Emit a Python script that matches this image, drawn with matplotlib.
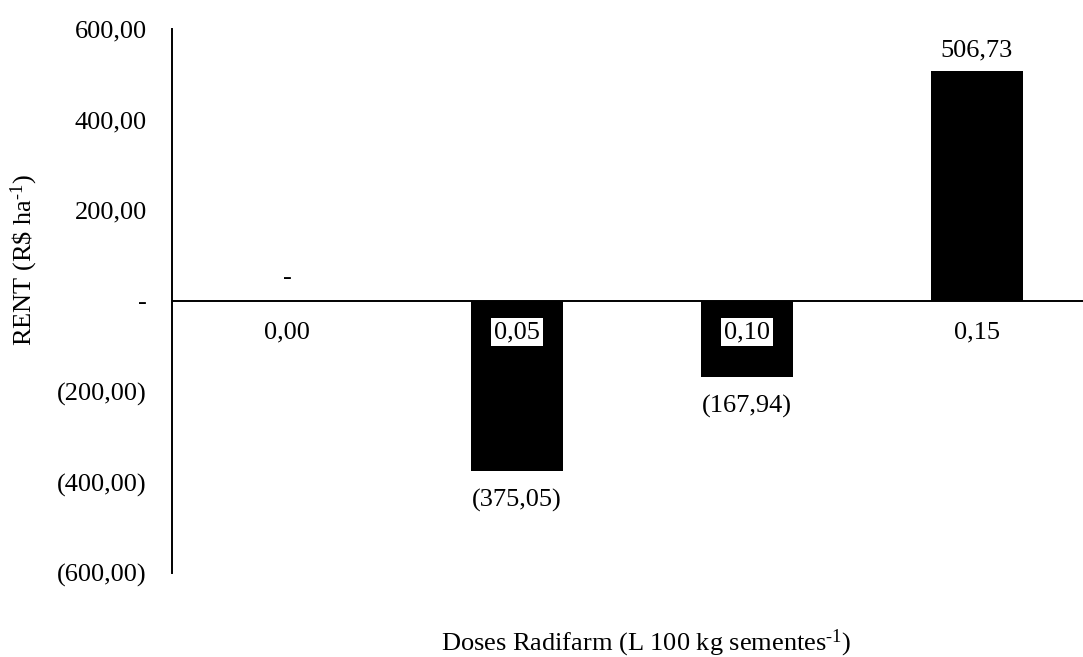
import matplotlib.pyplot as plt
import numpy as np

plt.rcParams['font.family'] = ['Liberation Serif', 'DejaVu Serif']
plt.rcParams['mathtext.fontset'] = 'custom'
plt.rcParams['mathtext.rm'] = 'Liberation Serif'
plt.rcParams['mathtext.it'] = 'Liberation Serif:italic'

# doses de Radifarm e rentabilidade
doses = ['0,00', '0,05', '0,10', '0,15']
rent = [0.0, -375.05, -167.94, 506.73]
y_ticks = [600, 400, 200, 0, -200, -400, -600]


def contabil(v):
    # formato contábil: negativos entre parênteses, zero como traço
    if abs(v) < 1e-9:
        return '-'
    s = f'{abs(v):,.2f}'.replace(',', 'X').replace('.', ',').replace('X', '.')
    return f'({s})' if v < 0 else s


fs = 19
fig = plt.figure(figsize=(10.83, 6.57), dpi=100)
W, H = 1083, 657
ax = fig.add_axes([172 / W, 1 - 573 / H, (1092 - 172) / W, (573 - 29) / H])

x = np.arange(len(doses))
ax.bar(x, rent, width=0.4, color='black', zorder=2)
ax.axhline(0, color='black', lw=1.4, zorder=3)

ax.set_xlim(-0.5, len(doses) - 0.5)
ax.set_ylim(-600, 600)
ax.set_yticks(y_ticks)
ax.set_yticklabels([contabil(v) for v in y_ticks], fontsize=fs)
ax.tick_params(axis='y', length=0, pad=18)
ax.set_xticks([])

for side in ['top', 'right', 'bottom']:
    ax.spines[side].set_visible(False)
ax.spines['left'].set_linewidth(1.4)

# rótulos das doses logo abaixo do eixo, com fundo branco
for xi, d in zip(x, doses):
    ax.annotate(d, (xi, 0), xytext=(0, -31), textcoords='offset pixels',
                ha='center', va='center', fontsize=fs, zorder=5,
                bbox=dict(boxstyle='square,pad=0.1', fc='white', ec='none'))

# valores sobre as barras
for xi, v in zip(x, rent):
    if v > 0:
        off = 21
    elif v < 0:
        off = -29
    else:
        off = 23
    ax.annotate(contabil(v), (xi, v), xytext=(0, off), textcoords='offset pixels',
                ha='center', va='center', fontsize=fs, zorder=5)

fig.text(24 / W, 1 - 260 / H, r'RENT (R\$ ha$^{\text{-1}}$)', rotation=90,
         ha='center', va='center', fontsize=fs)
fig.text(646 / W, 1 - 643 / H, r'Doses Radifarm (L 100 kg sementes$^{\text{-1}}$)',
         ha='center', va='center', fontsize=fs)

fig.savefig('out.png', dpi=100)
